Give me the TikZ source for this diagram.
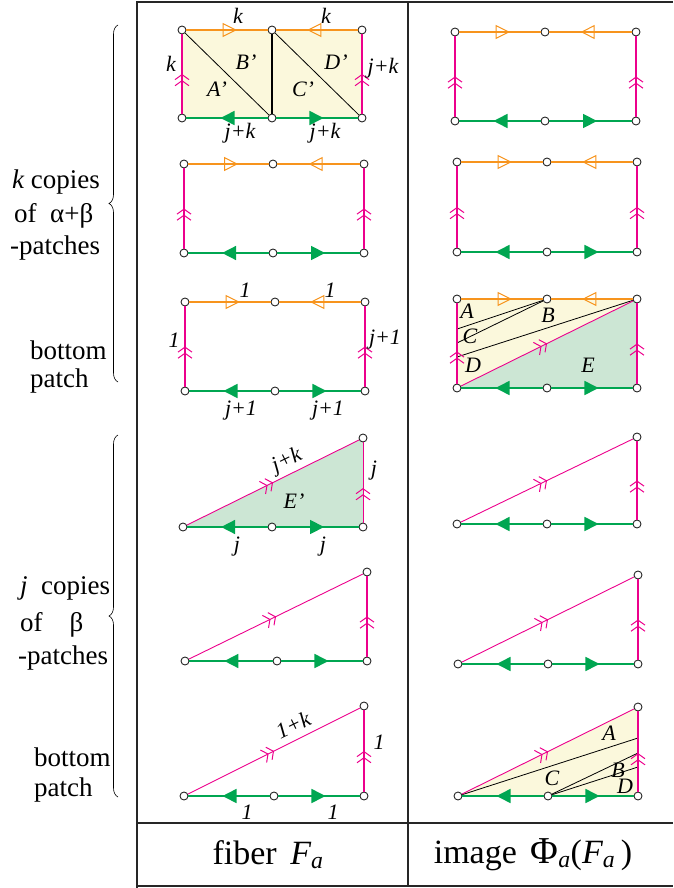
\documentclass[tikz,border=0pt]{standalone}
\usepackage{fontspec}
\setmainfont{Liberation Serif}
\usetikzlibrary{arrows.meta,decorations.markings,decorations.pathreplacing,backgrounds}
\definecolor{edgeorange}{HTML}{F7941D}
\definecolor{edgegreen}{HTML}{00A651}
\definecolor{edgepink}{HTML}{EC008C}
\definecolor{fillyellow}{HTML}{FBF8DC}
\definecolor{fillgreen}{HTML}{CCE6D4}

\tikzset{
  vtx/.style={circle, draw=black!85, fill=white, line width=0.9pt, inner sep=0pt, minimum size=8pt},
  midtip/.style 2 args={postaction={decorate, decoration={markings, mark=at position #1 with {\arrow{#2}}}}},
  orangeedge/.style={draw=edgeorange, line width=1.6pt, midtip={0.62}{Triangle[open, length=14pt, width=14pt, line width=1pt]}},
  greenedge/.style={draw=edgegreen, line width=1.6pt, midtip={0.58}{Triangle[length=14pt, width=14pt]}},
  pinkedge/.style={draw=edgepink, line width=1.6pt, midtip={#1}{Straight Barb[length=5pt, width=14pt, line width=1pt] Straight Barb[length=5pt, width=14pt, line width=1pt]}},
  pinkedge/.default=0.5,
  pinkthin/.style={draw=edgepink, line width=0.9pt, midtip={#1}{Straight Barb[length=5pt, width=14pt, line width=1pt] Straight Barb[length=5pt, width=14pt, line width=1pt]}},
  pinkthin/.default=0.5,
  cutline/.style={draw=black, line width=0.8pt},
  frameline/.style={draw=black!85, line width=1.2pt},
  bracestyle/.style={decorate, decoration={brace, amplitude=9pt}, line width=0.6pt},
  lbl/.style={font=\fontsize{22}{24}\selectfont\itshape, inner sep=0pt},
  sidelbl/.style={font=\fontsize{27}{30}\selectfont, anchor=west, inner sep=0pt},
  footlbl/.style={font=\fontsize{34}{37}\selectfont, inner sep=0pt}
}

\begin{document}
\begin{tikzpicture}[x=1pt,y=-1pt]
\useasboundingbox (0,0) rectangle (673,888);

% table frame
\draw[frameline] (137,888) -- (137,2) -- (673,2);
\draw[frameline] (408,2) -- (408,886);
\draw[frameline] (137,823) -- (673,823);
\draw[frameline] (137,886) -- (673,886);

% braces and side texts
\draw[bracestyle] (118,382) -- (118,25);
\draw[bracestyle] (118,797) -- (118,435);
\node[sidelbl] (kcop) at (12,182) {{\itshape k} copies};
\node[sidelbl] (kof) at (14,216) {of\ \ α+β};
\node[sidelbl] (kpat) at (10,248) {-patches};
\node[sidelbl] (kbot) at (30,350) {bottom};
\node[sidelbl] (kbpa) at (30,381) {patch};
\node[sidelbl] (jcop) at (20,588) {{\itshape j}\ \ copies};
\node[sidelbl] (jof) at (20,625) {of\quad β};
\node[sidelbl] (jpat) at (18,658) {-patches};
\node[sidelbl] (jbot) at (34,757) {bottom};
\node[sidelbl] (jbpa) at (34,790) {patch};

% footer
\node[footlbl] (fib) at (268,855) {fiber\hspace{0.4em}{\itshape F\textsubscript{a}}};
\node[footlbl] (img) at (533,855) {image\hspace{0.4em}{\fontsize{38}{38}\selectfont Φ}\textsubscript{\itshape a}({\itshape F\textsubscript{a}}\,)};

% ---- fiber, row 1
\node[vtx] (f1tl) at (182,30) {};
\node[vtx] (f1tm) at (272,30) {};
\node[vtx] (f1tr) at (362,30) {};
\node[vtx] (f1bl) at (182,118) {};
\node[vtx] (f1bm) at (272,118) {};
\node[vtx] (f1br) at (362,118) {};
\begin{scope}[on background layer]
\fill[fillyellow] (f1tl.center) -- (f1tr.center) -- (f1br.center) -- (f1bl.center) -- cycle;
\end{scope}
\draw[cutline] (f1tl) -- (f1bm);
\draw[cutline] (f1tm) -- (f1br);
\draw[cutline, line width=1.4pt] (f1tm) -- (f1bm);
\draw[orangeedge] (f1tl) -- (f1tm);
\draw[orangeedge] (f1tr) -- (f1tm);
\draw[greenedge] (f1bm) -- (f1bl);
\draw[greenedge] (f1bm) -- (f1br);
\draw[pinkedge] (f1bl) -- (f1tl);
\draw[pinkedge] (f1br) -- (f1tr);
\node[lbl] (f1k1) at (238,16) {k};
\node[lbl] (f1k2) at (326,16) {k};
\node[lbl] (f1k3) at (171,64) {k};
\node[lbl] (f1jk1) at (383,68) {j+k};
\node[lbl] (f1jk2) at (240,133) {j+k};
\node[lbl] (f1jk3) at (325,133) {j+k};
\node[lbl] (f1A) at (217,89) {A'};
\node[lbl] (f1B) at (246,62) {B'};
\node[lbl] (f1C) at (303,89) {C'};
\node[lbl] (f1D) at (336,62) {D'};

% ---- image, row 1
\node[vtx] (g1tl) at (455,32) {};
\node[vtx] (g1tm) at (545,32) {};
\node[vtx] (g1tr) at (636,32) {};
\node[vtx] (g1bl) at (455,121) {};
\node[vtx] (g1bm) at (545,121) {};
\node[vtx] (g1br) at (636,121) {};
\draw[orangeedge] (g1tl) -- (g1tm);
\draw[orangeedge] (g1tr) -- (g1tm);
\draw[greenedge] (g1bm) -- (g1bl);
\draw[greenedge] (g1bm) -- (g1br);
\draw[pinkedge] (g1bl) -- (g1tl);
\draw[pinkedge] (g1br) -- (g1tr);

% ---- fiber, row 2
\node[vtx] (f2tl) at (184,164) {};
\node[vtx] (f2tm) at (273,164) {};
\node[vtx] (f2tr) at (364,164) {};
\node[vtx] (f2bl) at (184,253) {};
\node[vtx] (f2bm) at (273,253) {};
\node[vtx] (f2br) at (364,253) {};
\draw[orangeedge] (f2tl) -- (f2tm);
\draw[orangeedge] (f2tr) -- (f2tm);
\draw[greenedge] (f2bm) -- (f2bl);
\draw[greenedge] (f2bm) -- (f2br);
\draw[pinkedge] (f2bl) -- (f2tl);
\draw[pinkedge] (f2br) -- (f2tr);

% ---- image, row 2
\node[vtx] (g2tl) at (457,162) {};
\node[vtx] (g2tm) at (547,162) {};
\node[vtx] (g2tr) at (637,162) {};
\node[vtx] (g2bl) at (457,252) {};
\node[vtx] (g2bm) at (547,252) {};
\node[vtx] (g2br) at (637,252) {};
\draw[orangeedge] (g2tl) -- (g2tm);
\draw[orangeedge] (g2tr) -- (g2tm);
\draw[greenedge] (g2bm) -- (g2bl);
\draw[greenedge] (g2bm) -- (g2br);
\draw[pinkedge] (g2bl) -- (g2tl);
\draw[pinkedge] (g2br) -- (g2tr);

% ---- fiber, row 3 (bottom patch)
\node[vtx] (f3tl) at (185,302) {};
\node[vtx] (f3tm) at (275,302) {};
\node[vtx] (f3tr) at (365,302) {};
\node[vtx] (f3bl) at (185,391) {};
\node[vtx] (f3bm) at (275,391) {};
\node[vtx] (f3br) at (365,391) {};
\draw[orangeedge] (f3tl) -- (f3tm);
\draw[orangeedge] (f3tr) -- (f3tm);
\draw[greenedge] (f3bm) -- (f3bl);
\draw[greenedge] (f3bm) -- (f3br);
\draw[pinkedge] (f3bl) -- (f3tl);
\draw[pinkedge] (f3br) -- (f3tr);
\node[lbl] (f3o1) at (245,290) {1};
\node[lbl] (f3o2) at (330,290) {1};
\node[lbl] (f3o3) at (174,340) {1};
\node[lbl] (f3j1) at (385,340) {j+1};
\node[lbl] (f3j2) at (241,411) {j+1};
\node[lbl] (f3j3) at (328,411) {j+1};

% ---- image, row 3
\node[vtx] (g3tl) at (457,299) {};
\node[vtx] (g3tm) at (547,299) {};
\node[vtx] (g3tr) at (637,299) {};
\node[vtx] (g3bl) at (457,388) {};
\node[vtx] (g3bm) at (547,388) {};
\node[vtx] (g3br) at (637,388) {};
\coordinate (g3c1) at (457,329);
\coordinate (g3c2) at (457,343);
\coordinate (g3c3) at (457,357);
\begin{scope}[on background layer]
\fill[fillyellow] (g3tl.center) -- (g3tr.center) -- (g3bl.center) -- cycle;
\fill[fillgreen] (g3bl.center) -- (g3tr.center) -- (g3br.center) -- cycle;
\end{scope}
\draw[cutline] (g3tm) -- (g3c1);
\draw[cutline] (g3tm) -- (g3c2);
\draw[cutline] (g3tr) -- (g3c3);
\draw[orangeedge] (g3tl) -- (g3tm);
\draw[orangeedge] (g3tr) -- (g3tm);
\draw[greenedge] (g3bm) -- (g3bl);
\draw[greenedge] (g3bm) -- (g3br);
\draw[pinkedge=0.4] (g3bl) -- (g3tl);
\draw[pinkedge] (g3br) -- (g3tr);
\draw[pinkthin] (g3bl) -- (g3tr);
\node[lbl] (g3A) at (467,311) {A};
\node[lbl] (g3B) at (548,315) {B};
\node[lbl] (g3C) at (470,336) {C};
\node[lbl] (g3D) at (473,365) {D};
\node[lbl] (g3E) at (588,365) {E};

% ---- fiber, row 4
\node[vtx] (f4bl) at (183,527) {};
\node[vtx] (f4bm) at (272,527) {};
\node[vtx] (f4br) at (363,527) {};
\node[vtx] (f4top) at (363,438) {};
\begin{scope}[on background layer]
\fill[fillgreen] (f4bl.center) -- (f4top.center) -- (f4br.center) -- cycle;
\end{scope}
\draw[greenedge] (f4bm) -- (f4bl);
\draw[greenedge] (f4bm) -- (f4br);
\draw[pinkthin] (f4bl) -- (f4top);
\draw[pinkthin=0.43] (f4br) -- (f4top);
\node[lbl, rotate=26] (f4jk) at (287,461) {j+k};
\node[lbl] (f4E) at (294,501) {E'};
\node[lbl] (f4j1) at (374,471) {j};
\node[lbl] (f4j2) at (237,547) {j};
\node[lbl] (f4j3) at (323,547) {j};

% ---- image, row 4
\node[vtx] (g4bl) at (457,524) {};
\node[vtx] (g4bm) at (547,524) {};
\node[vtx] (g4br) at (637,524) {};
\node[vtx] (g4top) at (637,437) {};
\draw[greenedge] (g4bm) -- (g4bl);
\draw[greenedge] (g4bm) -- (g4br);
\draw[pinkthin] (g4bl) -- (g4top);
\draw[pinkedge] (g4br) -- (g4top);

% ---- fiber, row 5
\node[vtx] (f5bl) at (185,661) {};
\node[vtx] (f5bm) at (277,661) {};
\node[vtx] (f5br) at (367,661) {};
\node[vtx] (f5top) at (367,572) {};
\draw[greenedge] (f5bm) -- (f5bl);
\draw[greenedge] (f5bm) -- (f5br);
\draw[pinkthin] (f5bl) -- (f5top);
\draw[pinkedge] (f5br) -- (f5top);

% ---- image, row 5
\node[vtx] (g5bl) at (458,664) {};
\node[vtx] (g5bm) at (548,664) {};
\node[vtx] (g5br) at (638,664) {};
\node[vtx] (g5top) at (638,575) {};
\draw[greenedge] (g5bm) -- (g5bl);
\draw[greenedge] (g5bm) -- (g5br);
\draw[pinkthin] (g5bl) -- (g5top);
\draw[pinkedge] (g5br) -- (g5top);

% ---- fiber, row 6 (bottom patch)
\node[vtx] (f6bl) at (184,796) {};
\node[vtx] (f6bm) at (274,796) {};
\node[vtx] (f6br) at (364,796) {};
\node[vtx] (f6top) at (364,706) {};
\draw[greenedge] (f6bm) -- (f6bl);
\draw[greenedge] (f6bm) -- (f6br);
\draw[pinkthin] (f6bl) -- (f6top);
\draw[pinkedge] (f6br) -- (f6top);
\node[lbl, rotate=26] (f6ok) at (293,725) {1+k};
\node[lbl] (f6o1) at (379,742) {1};
\node[lbl] (f6o2) at (247,812) {1};
\node[lbl] (f6o3) at (333,812) {1};

% ---- image, row 6
\node[vtx] (g6bl) at (458,796) {};
\node[vtx] (g6bm) at (548,796) {};
\node[vtx] (g6br) at (638,796) {};
\node[vtx] (g6top) at (638,707) {};
\coordinate (g6c1) at (638,738);
\coordinate (g6c2) at (638,753);
\coordinate (g6c3) at (638,767);
\begin{scope}[on background layer]
\fill[fillyellow] (g6bl.center) -- (g6top.center) -- (g6br.center) -- cycle;
\end{scope}
\draw[cutline] (g6bl) -- (g6c1);
\draw[cutline] (g6bm) -- (g6c2);
\draw[cutline] (g6bm) -- (g6c3);
\draw[greenedge] (g6bm) -- (g6bl);
\draw[greenedge] (g6bm) -- (g6br);
\draw[pinkthin] (g6bl) -- (g6top);
\draw[pinkedge=0.48] (g6br) -- (g6top);
\node[lbl] (g6A) at (609,733) {A};
\node[lbl] (g6B) at (618,770) {B};
\node[lbl] (g6C) at (552,778) {C};
\node[lbl] (g6D) at (625,786) {D};
\end{tikzpicture}
\end{document}
